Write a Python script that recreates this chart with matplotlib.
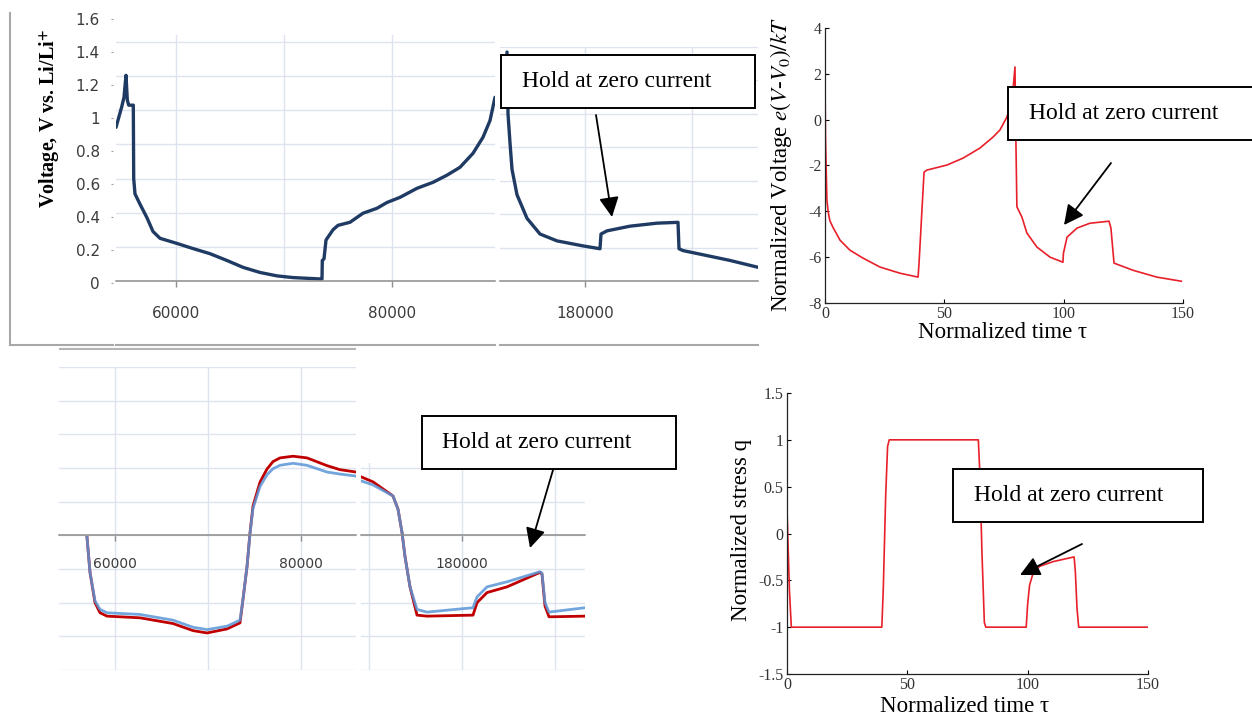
import numpy as np
import matplotlib
matplotlib.use("Agg")
import matplotlib.pyplot as plt
from matplotlib.patches import Rectangle, FancyArrowPatch
from matplotlib.lines import Line2D

W, H = 1252, 717

# top left: measured voltage, first cycle window
volt_a_x = [54444, 54972, 55185, 55370, 55491, 55620, 55991, 56046, 56083, 56204,
            56667, 57315, 57870, 58519, 60093, 61574, 63148, 64722, 66204, 67778,
            69352, 70833, 73333, 73519, 73546, 73704, 73889, 74537, 75000, 76111, 77315,
            78611, 79537, 80741, 82315, 83796, 85093, 86296, 87500, 88426, 89074, 89537]
volt_a_y = [0.90, 1.02, 1.076, 1.205, 1.06, 1.03, 1.03, 1.03, 0.60, 0.51,
            0.45, 0.37, 0.29, 0.25, 0.22, 0.19, 0.16, 0.12, 0.08, 0.05,
            0.03, 0.02, 0.012, 0.012, 0.12, 0.13, 0.24, 0.30, 0.326, 0.344, 0.397,
            0.426, 0.46, 0.49, 0.543, 0.578, 0.62, 0.666, 0.748, 0.842, 0.94, 1.076]

# top middle: measured voltage around the hold
volt_b_x = [172691, 172785, 172973, 173160, 173628, 174565, 175784, 177376, 179813, 181405,
            181499, 182061, 184216, 186746, 188714, 188807, 189182, 191431, 193586, 196210]
volt_b_y = [1.37, 1.0, 0.826, 0.668, 0.516, 0.375, 0.281, 0.24, 0.21, 0.193,
            0.281, 0.30, 0.328, 0.346, 0.351, 0.193, 0.182, 0.152, 0.123, 0.082]

volt_ticks = [0, 0.2, 0.4, 0.6, 0.8, 1.0, 1.2, 1.4, 1.6]
volt_tick_labels = ["0", "0.2", "0.4", "0.6", "0.8", "1", "1.2", "1.4", "1.6"]

# top right: model voltage
tau_v = [0, 0.2, 0.8, 1.3, 2.0, 3.35, 6.3, 10.5, 15.9, 23.0, 31.4, 39.0, 39.4, 41.5,
         42.7, 51.1, 57.8, 64.9, 70.4, 73.3, 76.2, 77.5, 78.6, 79.6, 80.0, 80.4, 82.5,
         84.6, 88.8, 94.3, 99.7, 99.9, 101.4, 105.6, 111.0, 119.0, 119.8, 121.1, 129.0,
         139.0, 149.3]
volt_model = [1.8, -0.8, -3.5, -4.0, -4.4, -4.7, -5.26, -5.7, -6.04, -6.43, -6.7, -6.87,
              -6.26, -2.29, -2.2, -1.98, -1.68, -1.24, -0.76, -0.45, 0.11, 0.55, 1.1, 2.3,
              -1.0, -3.8, -4.25, -4.95, -5.56, -6.0, -6.22, -5.83, -5.13, -4.73, -4.52,
              -4.43, -4.73, -6.26, -6.57, -6.87, -7.05]

# bottom left: measured stress, two gauges (arbitrary units)
stress_a_x = [56989, 57312, 57849, 58387, 59140, 62688, 66237, 68387, 69892, 72043,
              73441, 73763, 74194, 74516, 74839, 75591, 76344, 76989, 77742, 79140,
              80645, 82796, 84194, 85914]
stress_a_red = [-0.06, -1.1, -2.0, -2.3, -2.4, -2.45, -2.62, -2.83, -2.9, -2.78,
                -2.6, -1.9, -0.93, 0.07, 0.87, 1.58, 1.97, 2.19, 2.3, 2.35,
                2.3, 2.07, 1.95, 1.88]
stress_a_blue = [-0.06, -1.1, -1.95, -2.2, -2.3, -2.35, -2.52, -2.73, -2.8, -2.7,
                 -2.52, -1.9, -0.93, 0.05, 0.8, 1.45, 1.8, 1.98, 2.08, 2.14,
                 2.08, 1.88, 1.82, 1.76]

stress_b_x = [169140, 170430, 172581, 173118, 173548, 173871, 174409, 175161, 176237,
              181183, 181613, 182688, 184839, 188387, 188602, 188925, 189355, 193226]
stress_b_red = [1.74, 1.59, 1.17, 0.78, 0.09, -0.63, -1.53, -2.37, -2.4,
                -2.37, -2.0, -1.7, -1.53, -1.1, -1.15, -2.1, -2.42, -2.4]
stress_b_blue = [1.62, 1.5, 1.17, 0.78, 0.09, -0.63, -1.53, -2.2, -2.28,
                 -2.15, -1.83, -1.53, -1.38, -1.08, -1.12, -2.0, -2.28, -2.15]

# bottom right: model stress
tau_q = [0, 0.3, 1.0, 1.8, 39.4, 40.0, 41.0, 41.8, 42.5, 79.5, 80.2, 81.0, 82.0, 82.6,
         99.4, 100.0, 100.8, 102.3, 105, 110.6, 119.3, 119.8, 120.5, 121.2, 150]
stress_model = [0.25, 0.0, -0.6, -1.0, -1.0, -0.6, 0.4, 0.93, 1.0, 1.0, 0.6, -0.2, -0.95,
                -1.0, -1.0, -0.75, -0.55, -0.42, -0.35, -0.3, -0.25, -0.4, -0.8, -1.0, -1.0]

hold_label = "Hold at zero current"

serif = ["Liberation Serif", "DejaVu Serif"]
sans = ["DejaVu Sans"]
plt.rcParams["mathtext.fontset"] = "stix"

fig = plt.figure(figsize=(W / 100, H / 100), dpi=100)


def px_box(x0, y0, x1, y1):
    return [x0 / W, 1 - y1 / H, (x1 - x0) / W, (y1 - y0) / H]


def frame_line(xs, ys, color="#a8a8a8", lw=1.5):
    fig.add_artist(Line2D([x / W for x in xs], [1 - y / H for y in ys],
                          transform=fig.transFigure, color=color, lw=lw))


def excel_axes(rect, xlim, ylim, xticks, xlabels, minor_x, yticks, zero_axis=False,
               labelsize=11, pad=13):
    ax = fig.add_axes(px_box(*rect))
    ax.set_xlim(xlim)
    ax.set_ylim(ylim)
    for s in ["top", "right", "left"]:
        ax.spines[s].set_visible(False)
    ax.spines["bottom"].set_color("#8c8c8c")
    ax.spines["bottom"].set_linewidth(1.1)
    if zero_axis:
        ax.spines["bottom"].set_position(("data", 0))
    ax.set_xticks(xticks)
    ax.set_xticklabels(xlabels)
    ax.set_xticks(minor_x, minor=True)
    ax.set_yticks(yticks)
    ax.tick_params(axis="y", length=0, labelleft=False)
    ax.tick_params(axis="x", which="major", direction="out", length=4.5, width=1,
                   color="#8c8c8c", labelsize=labelsize, labelcolor="#3c3c3c",
                   pad=pad, labelfontfamily=sans)
    ax.tick_params(axis="x", which="minor", length=0)
    ax.grid(True, which="both", color="#dde4ef", lw=1.0)
    ax.set_axisbelow(True)
    ax.patch.set_alpha(0)
    return ax


def matlab_axes(rect, xlim, ylim, xticks, yticks, ylabels):
    ax = fig.add_axes(px_box(*rect))
    ax.set_xlim(xlim)
    ax.set_ylim(ylim)
    for s in ["top", "right"]:
        ax.spines[s].set_visible(False)
    for s in ["left", "bottom"]:
        ax.spines[s].set_linewidth(0.9)
        ax.spines[s].set_color("#222222")
    ax.set_xticks(xticks)
    ax.set_yticks(yticks)
    ax.set_yticklabels(ylabels)
    ax.tick_params(direction="in", length=3, width=0.8, labelsize=11.5,
                   labelcolor="#333333", labelfontfamily=serif, pad=2.5)
    ax.patch.set_alpha(0)
    return ax


def hold_note(box, text_x, tail, head):
    x0, y0, x1, y1 = box
    fig.add_artist(Rectangle((x0 / W, 1 - y1 / H), (x1 - x0) / W, (y1 - y0) / H,
                             transform=fig.transFigure, facecolor="white",
                             edgecolor="black", lw=1.4, zorder=5))
    fig.text(text_x / W, 1 - (y0 + y1) / 2 / H, hold_label, ha="left", va="center",
             fontfamily=serif, fontsize=17, zorder=6)
    fig.add_artist(FancyArrowPatch((tail[0] / W, 1 - tail[1] / H),
                                   (head[0] / W, 1 - head[1] / H),
                                   transform=fig.transFigure, arrowstyle="-|>",
                                   mutation_scale=30, lw=1.3, color="black",
                                   shrinkA=0, shrinkB=0, zorder=6))


# ---- top left / top middle: voltage (Excel) ----
frame_line([10, 10], [13, 345])
frame_line([10, 113], [345, 345])
frame_line([116, 495], [345, 345])
frame_line([500, 758], [345, 345])
frame_line([60, 355], [349, 349], color="#b4b4b4")

grid_v = [0.2, 0.4, 0.6, 0.8, 1.0, 1.2, 1.4]
ax_a = excel_axes((116, 35, 495, 281), (54444, 89537), (0, 1.441),
                  [60000, 80000], ["60000", "80000"], [70000], grid_v, pad=13.5)
ax_a.plot(volt_a_x, volt_a_y, color="#1f3b63", lw=2.4, solid_joinstyle="round",
          solid_capstyle="round")

ax_b = excel_axes((500, 47, 758, 281), (172035, 196210), (0, 1.371),
                  [180000], ["180000"], [190000], grid_v, pad=13.5)
ax_b.plot(volt_b_x, volt_b_y, color="#1f3b63", lw=2.4, solid_joinstyle="round",
          solid_capstyle="round")

ax_vl = fig.add_axes(px_box(113, 19, 116, 283))
ax_vl.set_ylim(0, 1.6)
ax_vl.set_yticks(volt_ticks)
ax_vl.set_yticklabels(volt_tick_labels)
ax_vl.set_xticks([])
for s in ax_vl.spines.values():
    s.set_visible(False)
ax_vl.tick_params(axis="y", length=1.5, color="#a0a0a0", labelsize=11,
                  labelcolor="#3c3c3c", pad=8, labelfontfamily=sans)
ax_vl.patch.set_alpha(0)

fig.text(50 / W, 1 - 118 / H, r"Voltage, V vs. Li/Li$^{\mathbf{+}}$", rotation=90,
         ha="center", va="center", fontfamily=serif, fontweight="bold", fontsize=14.5)

hold_note((501, 55, 755, 108), 522, (596, 115), (612, 217))

# ---- top right: model voltage ----
ax_c = matlab_axes((825, 28, 1183, 303), (0, 150), (-8, 4), [0, 50, 100, 150],
                   [-8, -6, -4, -2, 0, 2, 4], ["-8", "-6", "-4", "-2", "0", "2", "4"])
ax_c.plot(tau_v, volt_model, color="#e8202a", lw=1.2)
fig.text(781 / W, 1 - 165 / H, r"Normalized Voltage $e(V$-$V_0)/kT$", rotation=90,
         ha="center", va="center", fontfamily=serif, fontsize=16.5)
fig.text(1003 / W, 1 - 333 / H, "Normalized time τ", ha="center", va="center",
         fontfamily=serif, fontsize=16.5)
hold_note((1008, 87, 1256, 140), 1029, (1111, 163), (1064, 225))

# ---- bottom left: measured stress (Excel) ----
ax_d = excel_axes((59, 367, 356, 670), (53978, 85914), (-4, 5),
                  [60000, 80000], ["60000", "80000"], [70000], list(range(-4, 6)),
                  zero_axis=True, labelsize=10, pad=11)
ax_d.plot(stress_a_x, stress_a_red, color="#c00000", lw=2.0, solid_joinstyle="round")
ax_d.plot(stress_a_x, stress_a_blue, color="#5b96d8", lw=2.0, alpha=0.85,
          solid_joinstyle="round")

ax_e = excel_axes((361, 463, 585, 670), (169140, 193226), (-4, 2.15),
                  [180000], ["180000"], [170000, 190000], list(range(-4, 3)),
                  zero_axis=True, labelsize=10, pad=11)
ax_e.plot(stress_b_x, stress_b_red, color="#c00000", lw=2.0, solid_joinstyle="round")
ax_e.plot(stress_b_x, stress_b_blue, color="#5b96d8", lw=2.0, alpha=0.85,
          solid_joinstyle="round")

hold_note((422, 416, 676, 469), 442, (553, 470), (530, 548))

# ---- bottom right: model stress ----
ax_f = matlab_axes((787, 393, 1148, 674), (0, 150), (-1.5, 1.5), [0, 50, 100, 150],
                   [-1.5, -1, -0.5, 0, 0.5, 1, 1.5],
                   ["-1.5", "-1", "-0.5", "0", "0.5", "1", "1.5"])
ax_f.plot(tau_q, stress_model, color="#e8202a", lw=1.2)
fig.text(741 / W, 1 - 530 / H, "Normalized stress q", rotation=90,
         ha="center", va="center", fontfamily=serif, fontsize=16.5)
fig.text(965 / W, 1 - 707 / H, "Normalized time τ", ha="center", va="center",
         fontfamily=serif, fontsize=16.5)
hold_note((953, 469, 1203, 522), 974, (1082, 544), (1020, 575))

fig.savefig("out.png", dpi=100)
